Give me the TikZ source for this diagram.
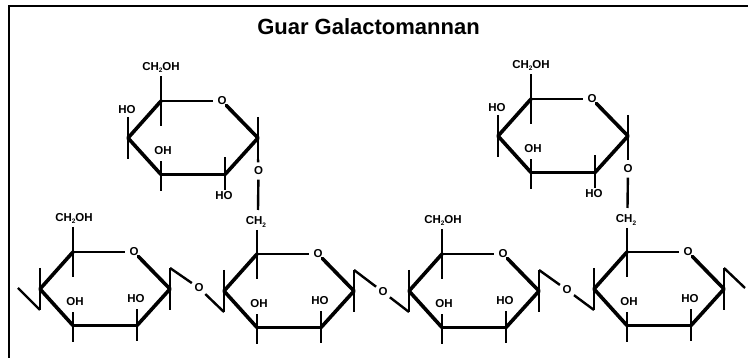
\documentclass[tikz,border=0pt]{standalone}
\usepackage{fontspec}
\setmainfont{Liberation Sans}
\newcommand{\subtwo}{\raisebox{-2.6pt}{\fontsize{6.5}{7}\selectfont 2}}
\newcommand{\ringcore}[3]{%
  \begin{scope}[shift={(#2,#3)}]
    \coordinate (#1c5) at (0,0);
    \coordinate (#1c1) at (97,37);
    \coordinate (#1c2) at (64,73.5);
    \coordinate (#1c3) at (0,73.5);
    \coordinate (#1c4) at (-33,37);
    \coordinate (#1c4u) at (-33,16);
    \coordinate (#1c4d) at (-33,58);
    \coordinate (#1c5d) at (0,25);
    \coordinate (#1c3d) at (0,90);
    \coordinate (#1c2d) at (64,89);
    \coordinate (#1c1u) at (97,16);
    \coordinate (#1c1d) at (97,58);
    \node[lab,ringO] (#1o) at (61,0) {O};
    \draw[thin bond,shorten >=3pt] (#1c5) -- (#1o);
    \draw[thick bond] (#1o) -- (#1c1) -- (#1c2);
    \draw[mid bond] (#1c2) -- (#1c3);
    \draw[thick bond] (#1c3) -- (#1c4) -- (#1c5);
    \draw[thin bond] (#1c5) -- (#1c5d);
    \draw[thin bond] (#1c3) -- (#1c3d);
    \draw[thin bond] (#1c2) -- (#1c2d);
    \draw[thin bond] (#1c1u) -- (#1c1d);
    \draw[thin bond] (#1c4u) -- (#1c4d);
  \end{scope}}
\newcommand{\topring}[3]{%
  \ringcore{#1}{#2}{#3}
  \begin{scope}[shift={(#2,#3)}]
    \node[lab] (#1ch) at (0,-33.5) {CH\subtwo OH};
    \coordinate (#1c5u) at (0,-25);
    \draw[thin bond] (#1c5) -- (#1c5u);
    \node[lab] (#1ho4) at (-34,9) {HO};
    \node[lab] (#1oh3) at (2,50) {OH};
    \node[lab] (#1ho2) at (63,95) {HO};
    \coordinate (#1c2u) at (64,56);
    \draw[thin bond] (#1c2) -- (#1c2u);
    \coordinate (#1c3u) at (0,60);
    \draw[thin bond] (#1c3) -- (#1c3u);
  \end{scope}}
\newcommand{\botlabels}[3]{%
  \begin{scope}[shift={(#2,#3)}]
    \node[lab] (#1oh3) at (2,50) {OH};
    \node[lab] (#1ho2) at (63,47) {HO};
    \coordinate (#1c2u) at (64,57);
    \draw[thin bond] (#1c2) -- (#1c2u);
    \coordinate (#1c3u) at (0,60);
    \draw[thin bond] (#1c3) -- (#1c3u);
  \end{scope}}
\begin{document}
\begin{tikzpicture}[x=1pt,y=-1pt,
  lab/.style={font=\bfseries\fontsize{11.5}{12}\selectfont,inner sep=0pt,text=black},
  ringO/.style={circle,minimum size=11pt},
  linkO/.style={circle,minimum size=17pt},
  thin bond/.style={draw=black,line width=2.4pt},
  mid bond/.style={draw=black,line width=2.8pt},
  thick bond/.style={draw=black,line width=3.6pt,line join=round,line cap=round}]
  \useasboundingbox (0,0) rectangle (748,358);
  \fill[white] (0,0) rectangle (748,358);
  \coordinate (frameB) at (8.5,358);
  \coordinate (frameC) at (8.5,6.5);
  \coordinate (frameR) at (748,6.5);
  \draw[black,line width=2pt] (frameB) -- (frameC) -- (frameR);
  \node[font=\bfseries\fontsize{22}{24}\selectfont,inner sep=0pt] (title) at (368.5,27) {Guar Galactomannan};

  \topring{ta}{161}{101}
  \topring{tb}{531}{99}

  \ringcore{a}{73}{252}
  \botlabels{a}{73}{252}
  \ringcore{b}{257}{254}
  \botlabels{b}{257}{254}
  \ringcore{c}{442}{254}
  \botlabels{c}{442}{254}
  \ringcore{d}{627}{252}
  \botlabels{d}{627}{252}

  \node[lab] (ach) at (74,218.5) {CH\subtwo OH};
  \node[lab] (cch) at (443,220.5) {CH\subtwo OH};
  \coordinate (ac5u) at (73,227);
  \coordinate (cc5u) at (442,229);
  \draw[thin bond] (ac5u) -- (ac5);
  \draw[thin bond] (cc5u) -- (cc5);

  % galactose to mannose links
  \node[lab,linkO] (oL) at (258.5,171) {O};
  \node[lab,linkO] (oR) at (628,169) {O};
  \node[lab] (chL) at (256,222) {CH\subtwo};
  \node[lab] (chR) at (626,220) {CH\subtwo};
  \coordinate (chLt) at (258,210);
  \coordinate (chRt) at (627.5,208);
  \coordinate (bc5u) at (257,230);
  \coordinate (dc5u) at (627,228);
  \draw[thin bond] (tac1d) -- (oL);
  \draw[thin bond] (oL) -- (chLt);
  \draw[thin bond] (bc5u) -- (bc5);
  \draw[thin bond] (tbc1d) -- (oR);
  \draw[thin bond] (oR) -- (chRt);
  \draw[thin bond] (dc5u) -- (dc5);

  % chain links
  \coordinate (startEnd) at (18,288);
  \coordinate (endEnd) at (745,288);
  \node[lab,linkO] (oab) at (199,288) {O};
  \node[lab,linkO] (obc) at (383,292) {O};
  \node[lab,linkO] (ocd) at (567,290) {O};
  \draw[thin bond] (startEnd) -- (ac4d);
  \draw[thin bond] (ac1u) -- (oab) (oab) -- (bc4d);
  \draw[thin bond] (bc1u) -- (obc) (obc) -- (cc4d);
  \draw[thin bond] (cc1u) -- (ocd) (ocd) -- (dc4d);
  \draw[thin bond] (dc1u) -- (endEnd);
\end{tikzpicture}
\end{document}
